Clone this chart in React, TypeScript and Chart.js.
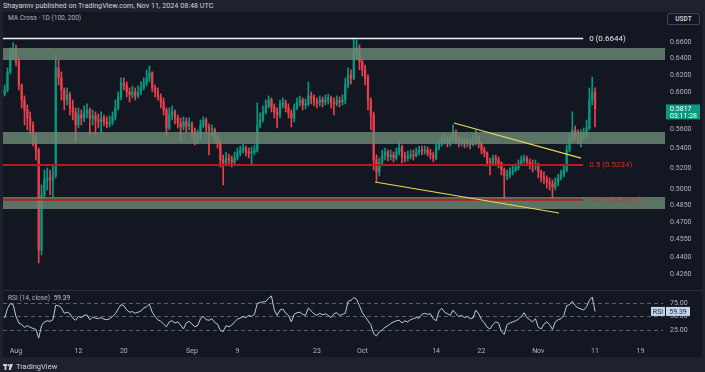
import React, { useEffect, useRef } from 'react';
import { Chart, registerables } from 'chart.js';

Chart.register(...registerables);

const FONT = 'Roboto, "Liberation Sans", Arial, sans-serif';

// Time axis: days since 2024-08-01 00:00 UTC, one 12h candle per step
const FIRST_DAY = -2;
const STEP_DAYS = 0.5;
const FIRST_OPEN = 0.5984;

const CLOSES = [
  0.6029, 0.6238, 0.6440, 0.6501, 0.6356, 0.6086, 0.5916, 0.5806, 0.5719, 0.5644,
  0.5507, 0.5383, 0.4458, 0.4945, 0.5087, 0.5107, 0.5087, 0.5136, 0.6285, 0.6167,
  0.6029, 0.5916, 0.5973, 0.5828, 0.5784, 0.5644, 0.5751, 0.5719, 0.5773, 0.5806,
  0.5719, 0.5740, 0.5697, 0.5676, 0.5719, 0.5676, 0.5655, 0.5676, 0.5730, 0.5828,
  0.5950, 0.6109, 0.6086, 0.6006, 0.5973, 0.6006, 0.5961, 0.6006, 0.6052, 0.6109,
  0.6167, 0.6226, 0.6052, 0.6006, 0.5950, 0.5894, 0.5806, 0.5612, 0.5751, 0.5784,
  0.5719, 0.5665, 0.5623, 0.5676, 0.5633, 0.5655, 0.5570, 0.5486, 0.5507, 0.5644,
  0.5697, 0.5623, 0.5591, 0.5591, 0.5507, 0.5455, 0.5283, 0.5253, 0.5303, 0.5283,
  0.5263, 0.5303, 0.5353, 0.5383, 0.5404, 0.5363, 0.5353, 0.5363, 0.5383, 0.5644,
  0.5697, 0.5784, 0.5850, 0.5916, 0.5839, 0.5784, 0.5751, 0.5872, 0.5883, 0.5828,
  0.5773, 0.5719, 0.5828, 0.5894, 0.5916, 0.5861, 0.5872, 0.5961, 0.5939, 0.5894,
  0.5883, 0.5916, 0.5894, 0.5916, 0.5939, 0.5883, 0.5872, 0.5905, 0.5894, 0.5916,
  0.6086, 0.6202, 0.6167, 0.6477, 0.6526, 0.6356, 0.6261, 0.6167, 0.5916, 0.5751,
  0.5283, 0.5165, 0.5263, 0.5323, 0.5363, 0.5313, 0.5333, 0.5303, 0.5363, 0.5414,
  0.5313, 0.5303, 0.5323, 0.5333, 0.5323, 0.5363, 0.5383, 0.5373, 0.5383, 0.5353,
  0.5333, 0.5303, 0.5404, 0.5445, 0.5486, 0.5507, 0.5455, 0.5486, 0.5570, 0.5486,
  0.5455, 0.5466, 0.5445, 0.5466, 0.5434, 0.5486, 0.5518, 0.5455, 0.5383, 0.5353,
  0.5263, 0.5253, 0.5303, 0.5283, 0.5253, 0.5184, 0.5126, 0.5136, 0.5165, 0.5184,
  0.5204, 0.5243, 0.5283, 0.5303, 0.5263, 0.5233, 0.5223, 0.5233, 0.5165, 0.5116,
  0.5097, 0.5068, 0.5049, 0.5021, 0.5068, 0.5107, 0.5145, 0.5184, 0.5383, 0.5486,
  0.5591, 0.5538, 0.5507, 0.5518, 0.5538, 0.5612, 0.5916, 0.6006, 0.5817,
];

const HIGHS = [
  0.6086, 0.6285, 0.6526, 0.6588, 0.6563, 0.6404, 0.6098, 0.5961, 0.5861, 0.5784,
  0.5676, 0.5538, 0.5404, 0.5040, 0.5184, 0.5204, 0.5184, 0.5233, 0.6440, 0.6380,
  0.6238, 0.6052, 0.6052, 0.6006, 0.5916, 0.5828, 0.5828, 0.5806, 0.5850, 0.5872,
  0.5828, 0.5806, 0.5784, 0.5762, 0.5784, 0.5751, 0.5730, 0.5740, 0.5784, 0.5916,
  0.6006, 0.6167, 0.6167, 0.6121, 0.6052, 0.6075, 0.6052, 0.6075, 0.6121, 0.6167,
  0.6261, 0.6308, 0.6238, 0.6086, 0.6052, 0.5984, 0.5939, 0.5828, 0.5828, 0.5850,
  0.5806, 0.5751, 0.5719, 0.5730, 0.5719, 0.5719, 0.5676, 0.5612, 0.5591, 0.5697,
  0.5730, 0.5719, 0.5655, 0.5644, 0.5612, 0.5538, 0.5486, 0.5333, 0.5363, 0.5343,
  0.5323, 0.5363, 0.5404, 0.5424, 0.5445, 0.5424, 0.5404, 0.5414, 0.5434, 0.5883,
  0.5773, 0.5850, 0.5916, 0.5961, 0.5939, 0.5872, 0.5828, 0.5916, 0.5939, 0.5916,
  0.5872, 0.5806, 0.5872, 0.5939, 0.5961, 0.5939, 0.5928, 0.6121, 0.6006, 0.5973,
  0.5939, 0.5961, 0.5950, 0.5973, 0.5984, 0.5961, 0.5939, 0.5961, 0.5950, 0.5973,
  0.6167, 0.6285, 0.6261, 0.6650, 0.6625, 0.6563, 0.6380, 0.6320, 0.6202, 0.5939,
  0.5784, 0.5333, 0.5303, 0.5383, 0.5404, 0.5383, 0.5383, 0.5363, 0.5404, 0.5455,
  0.5434, 0.5363, 0.5373, 0.5383, 0.5383, 0.5404, 0.5424, 0.5424, 0.5424, 0.5414,
  0.5393, 0.5363, 0.5455, 0.5486, 0.5528, 0.5549, 0.5528, 0.5538, 0.5644, 0.5591,
  0.5518, 0.5507, 0.5497, 0.5507, 0.5497, 0.5538, 0.5591, 0.5528, 0.5466, 0.5414,
  0.5363, 0.5303, 0.5333, 0.5333, 0.5313, 0.5263, 0.5204, 0.5184, 0.5204, 0.5223,
  0.5243, 0.5283, 0.5323, 0.5333, 0.5323, 0.5293, 0.5283, 0.5283, 0.5253, 0.5184,
  0.5165, 0.5126, 0.5107, 0.5087, 0.5107, 0.5145, 0.5184, 0.5233, 0.5434, 0.5538,
  0.5784, 0.5633, 0.5591, 0.5591, 0.5612, 0.5697, 0.6052, 0.6179, 0.6052,
];

const LOWS = [
  0.5961, 0.6006, 0.6214, 0.6380, 0.6308, 0.6029, 0.5828, 0.5644, 0.5591, 0.5549,
  0.5424, 0.5283, 0.4350, 0.4417, 0.4917, 0.4992, 0.4945, 0.4927, 0.5107, 0.6086,
  0.5916, 0.5806, 0.5861, 0.5751, 0.5697, 0.5466, 0.5612, 0.5644, 0.5676, 0.5719,
  0.5538, 0.5644, 0.5538, 0.5612, 0.5560, 0.5633, 0.5612, 0.5623, 0.5644, 0.5697,
  0.5806, 0.5916, 0.6029, 0.5950, 0.5894, 0.5939, 0.5916, 0.5939, 0.5973, 0.6029,
  0.6075, 0.6121, 0.6006, 0.5950, 0.5916, 0.5828, 0.5751, 0.5538, 0.5591, 0.5697,
  0.5655, 0.5612, 0.5466, 0.5591, 0.5570, 0.5591, 0.5507, 0.5434, 0.5445, 0.5486,
  0.5612, 0.5560, 0.5333, 0.5528, 0.5455, 0.5404, 0.5213, 0.5040, 0.5223, 0.5243,
  0.5213, 0.5243, 0.5283, 0.5323, 0.5353, 0.5323, 0.5303, 0.5233, 0.5333, 0.5363,
  0.5612, 0.5676, 0.5762, 0.5828, 0.5784, 0.5719, 0.5612, 0.5719, 0.5828, 0.5784,
  0.5719, 0.5623, 0.5676, 0.5806, 0.5850, 0.5806, 0.5817, 0.5850, 0.5872, 0.5850,
  0.5828, 0.5850, 0.5839, 0.5861, 0.5872, 0.5828, 0.5751, 0.5850, 0.5839, 0.5861,
  0.5872, 0.6052, 0.6098, 0.6144, 0.6380, 0.6261, 0.6191, 0.6086, 0.5806, 0.5591,
  0.5184, 0.5068, 0.5126, 0.5223, 0.5283, 0.5273, 0.5283, 0.5263, 0.5283, 0.5333,
  0.5253, 0.5263, 0.5273, 0.5293, 0.5283, 0.5313, 0.5333, 0.5333, 0.5343, 0.5323,
  0.5293, 0.5263, 0.5283, 0.5383, 0.5424, 0.5445, 0.5414, 0.5424, 0.5466, 0.5445,
  0.5414, 0.5424, 0.5404, 0.5414, 0.5393, 0.5424, 0.5434, 0.5404, 0.5343, 0.5313,
  0.5223, 0.5136, 0.5233, 0.5243, 0.5204, 0.5136, 0.4880, 0.5087, 0.5107, 0.5136,
  0.5165, 0.5184, 0.5233, 0.5253, 0.5223, 0.5194, 0.5165, 0.5184, 0.5107, 0.5068,
  0.5049, 0.5011, 0.4992, 0.4917, 0.4992, 0.5030, 0.5087, 0.5116, 0.5165, 0.5363,
  0.5466, 0.5486, 0.5445, 0.5414, 0.5486, 0.5507, 0.5591, 0.5861, 0.5623,
];

const RSI_VALUES = [
  47, 65, 74, 72, 50, 38, 35, 30, 33, 30,
  28, 26, 10, 33, 40, 42, 41, 44, 71, 70,
  66, 56, 58, 55, 47, 43, 50, 48, 52, 53,
  44, 49, 47, 46, 48, 45, 44, 46, 50, 55,
  64, 72, 70, 62, 58, 59, 56, 58, 60, 66,
  68, 73, 58, 50, 44, 41, 36, 31, 40, 42,
  38, 40, 34, 27, 38, 41, 36, 31, 33, 46,
  50, 44, 43, 46, 39, 36, 24, 22, 33, 31,
  34, 40, 45, 47, 50, 48, 52, 50, 54, 74,
  76, 77, 78, 84, 88, 62, 52, 62, 64, 56,
  52, 40, 54, 57, 58, 54, 52, 66, 60, 55,
  52, 56, 53, 55, 52, 48, 55, 57, 52, 54,
  56, 78, 80, 85, 82, 70, 57, 50, 42, 35,
  18, 14, 22, 25, 30, 33, 37, 40, 42, 43,
  38, 42, 40, 44, 46, 48, 47, 54, 56, 54,
  55, 46, 42, 60, 65, 58, 55, 52, 62, 55,
  50, 52, 48, 50, 46, 47, 62, 55, 44, 38,
  30, 27, 35, 40, 38, 22, 17, 35, 38, 40,
  42, 45, 50, 57, 48, 44, 40, 46, 30, 27,
  36, 40, 35, 26, 40, 44, 46, 52, 70, 72,
  78, 70, 66, 64, 62, 68, 80, 86, 59.39,
];
const RSI_LAST = 59.39;
const LAST_TIMER = '03:11:28';

const PRICE_MIN = 0.4126;
const PRICE_MAX = 0.6984;
const PRICE_TICKS = [0.66, 0.64, 0.62, 0.6, 0.58, 0.56, 0.54, 0.52, 0.5, 0.485, 0.47, 0.455, 0.44, 0.426];

const RSI_MIN = -2.78;
const RSI_MAX = 97.22;
const RSI_TICKS = [75, 50, 25];

const X_MIN = -2.29;
const X_MAX = 114.32;
const TIME_TICKS = [0, 11, 19, 31, 39, 53, 61, 74, 82, 92, 102, 110];
const TIME_LABELS = ['Aug', '12', '20', 'Sep', '9', '23', 'Oct', '14', '22', 'Nov', '11', '19'];

const ZONES = [
  [0.638, 0.6526],
  [0.5445, 0.557],
  [0.4817, 0.4926],
];
const LEVEL_VALUES = [0.6644, 0.5234, 0.4901];
const LEVEL_LABELS = ['0 (0.6644)', '0.5 (0.5234)', '0.618 (0.4901)'];
const LEVEL_END_DAY = 99.9;
const UPPER_TREND = [[77.15, 0.5665], [99.53, 0.5302]];
const LOWER_TREND = [[63.24, 0.5068], [95.65, 0.478]];

const UP = '#089981';
const DOWN = '#e8404d';
const ZONE_FILL = 'rgba(109,139,117,0.8)';
const LEVEL_LINE = ['#f2f2f2', '#b71c1c', '#b71c1c'];
const LEVEL_TEXT = ['#e6e6e6', '#d32f2f', '#d32f2f'];
const TREND = '#e4dc55';
const AXIS_TEXT = '#b2b5be';

const mainOverlay = {
  id: 'mainOverlay',
  afterDatasetsDraw(chart: any) {
    const { ctx, scales } = chart;
    const x = scales.x, y = scales.y;
    ctx.save();
    ctx.font = `8px ${FONT}`;
    ctx.textBaseline = 'middle';
    ctx.textAlign = 'left';
    LEVEL_VALUES.forEach((v, i) => {
      ctx.fillStyle = LEVEL_TEXT[i];
      ctx.fillText(LEVEL_LABELS[i], x.getPixelForValue(LEVEL_END_DAY) + 6, y.getPixelForValue(v) + 0.5);
    });
    ctx.restore();
  },
  afterDraw(chart: any) {
    const { ctx, chartArea, scales } = chart;
    const y = scales.y;
    const last = CLOSES[CLOSES.length - 1];
    const py = y.getPixelForValue(last);
    const left = chartArea.right + 1;
    ctx.save();
    ctx.fillStyle = UP;
    ctx.fillRect(left, py - 4.5, 34, 15);
    ctx.fillStyle = '#ffffff';
    ctx.font = `7px ${FONT}`;
    ctx.textBaseline = 'middle';
    ctx.textAlign = 'left';
    ctx.fillText(last.toFixed(4), left + 4, py);
    ctx.fillText(LAST_TIMER, left + 4, py + 7);
    ctx.restore();
  },
};

const rsiOverlay = {
  id: 'rsiOverlay',
  beforeDatasetsDraw(chart: any) {
    const { ctx, chartArea, scales } = chart;
    const y = scales.y;
    ctx.save();
    ctx.strokeStyle = '#5d606b';
    ctx.lineWidth = 1;
    ctx.setLineDash([4, 3]);
    RSI_TICKS.forEach((v) => {
      const py = Math.round(y.getPixelForValue(v)) + 0.5;
      ctx.beginPath();
      ctx.moveTo(chartArea.left, py);
      ctx.lineTo(chartArea.right - 2, py);
      ctx.stroke();
    });
    ctx.restore();
  },
  afterDraw(chart: any) {
    const { ctx, chartArea, scales } = chart;
    const py = scales.y.getPixelForValue(RSI_LAST);
    const r = chartArea.right;
    ctx.save();
    ctx.fillStyle = '#c5d5ee';
    ctx.fillRect(r - 14, py - 4.5, 14, 9);
    ctx.fillRect(r + 1, py - 4.5, 24, 9);
    ctx.fillStyle = '#1e222d';
    ctx.font = `7px ${FONT}`;
    ctx.textBaseline = 'middle';
    ctx.textAlign = 'center';
    ctx.fillText('RSI', r - 7, py + 0.5);
    ctx.fillText(RSI_LAST.toFixed(2), r + 13, py + 0.5);
    ctx.restore();
  },
};

export default function App() {
  const mainRef = useRef<HTMLCanvasElement>(null);
  const rsiRef = useRef<HTMLCanvasElement>(null);

  useEffect(() => {
    const days = CLOSES.map((_, i) => FIRST_DAY + i * STEP_DAYS);
    const opens = CLOSES.map((_, i) => (i === 0 ? FIRST_OPEN : CLOSES[i - 1]));
    const colors = CLOSES.map((c, i) => (c >= opens[i] ? UP : DOWN));

    const lineBase = { type: 'line', pointRadius: 0, tension: 0, fill: false };

    const main = new Chart(mainRef.current as HTMLCanvasElement, {
      type: 'bar',
      data: {
        datasets: [
          { ...lineBase, data: UPPER_TREND.map(([x, y]) => ({ x, y })), borderColor: TREND, borderWidth: 1.2, order: 0 },
          { ...lineBase, data: LOWER_TREND.map(([x, y]) => ({ x, y })), borderColor: TREND, borderWidth: 1.2, order: 0 },
          ...LEVEL_VALUES.map((v, i) => ({
            ...lineBase,
            data: [{ x: X_MIN, y: v }, { x: LEVEL_END_DAY, y: v }],
            borderColor: LEVEL_LINE[i],
            borderWidth: i === 0 ? 1.5 : 2,
            order: 1,
          })),
          ...ZONES.map(([lo, hi]) => ({
            ...lineBase,
            data: [{ x: X_MIN, y: hi }, { x: X_MAX, y: hi }],
            borderColor: 'rgba(0,0,0,0)',
            borderWidth: 1,
            backgroundColor: ZONE_FILL,
            fill: { value: lo },
            order: 2,
          })),
          {
            type: 'bar',
            data: days.map((d, i) => ({ x: d, y: [opens[i], CLOSES[i]] })),
            backgroundColor: colors,
            borderWidth: 0,
            grouped: false,
            barPercentage: 1,
            categoryPercentage: 1,
            maxBarThickness: 1.6,
            minBarLength: 1,
            order: 3,
          },
          {
            type: 'bar',
            data: days.map((d, i) => ({ x: d, y: [LOWS[i], HIGHS[i]] })),
            backgroundColor: colors,
            borderWidth: 0,
            grouped: false,
            barPercentage: 1,
            categoryPercentage: 1,
            maxBarThickness: 1,
            order: 4,
          },
        ] as any,
      },
      options: {
        responsive: false,
        animation: false,
        devicePixelRatio: 1,
        events: [],
        layout: { padding: { left: 3, right: 0, top: 0, bottom: 0 } },
        plugins: { legend: { display: false }, tooltip: { enabled: false } },
        scales: {
          x: { type: 'linear', min: X_MIN, max: X_MAX, display: false, offset: false },
          y: {
            type: 'logarithmic',
            position: 'right',
            min: PRICE_MIN,
            max: PRICE_MAX,
            grid: { display: false, drawTicks: false },
            border: { display: false },
            afterBuildTicks: (s: any) => { s.ticks = PRICE_TICKS.map((v) => ({ value: v })); },
            afterFit: (s: any) => { s.width = 40; s.paddingTop = 0; s.paddingBottom = 0; },
            ticks: {
              autoSkip: false,
              padding: 5,
              color: AXIS_TEXT,
              font: { size: 7, family: FONT },
              callback: (v: any) => Number(v).toFixed(4),
            },
          },
        },
      } as any,
      plugins: [mainOverlay],
    });

    const rsi = new Chart(rsiRef.current as HTMLCanvasElement, {
      type: 'line',
      data: {
        datasets: [
          {
            data: days.map((d, i) => ({ x: d, y: RSI_VALUES[i] })),
            borderColor: '#b9cbe6',
            borderWidth: 1,
            pointRadius: 0,
            tension: 0,
          },
        ],
      },
      options: {
        responsive: false,
        animation: false,
        devicePixelRatio: 1,
        events: [],
        layout: { padding: { left: 3, right: 0, top: 0, bottom: 0 } },
        plugins: { legend: { display: false }, tooltip: { enabled: false } },
        scales: {
          x: {
            type: 'linear',
            min: X_MIN,
            max: X_MAX,
            position: 'bottom',
            offset: false,
            grid: { display: false, drawTicks: false },
            border: { display: false },
            afterBuildTicks: (s: any) => { s.ticks = TIME_TICKS.map((v) => ({ value: v })); },
            afterFit: (s: any) => { s.height = 12; s.paddingLeft = 0; s.paddingRight = 0; },
            ticks: {
              autoSkip: false,
              maxRotation: 0,
              minRotation: 0,
              padding: 2,
              color: AXIS_TEXT,
              font: { size: 7, family: FONT },
              callback: (_v: any, i: number) => TIME_LABELS[i],
            },
          },
          y: {
            type: 'linear',
            position: 'right',
            min: RSI_MIN,
            max: RSI_MAX,
            grid: { display: false, drawTicks: false },
            border: { display: false },
            afterBuildTicks: (s: any) => { s.ticks = RSI_TICKS.map((v) => ({ value: v })); },
            afterFit: (s: any) => { s.width = 40; s.paddingTop = 0; s.paddingBottom = 0; },
            ticks: {
              autoSkip: false,
              padding: 5,
              color: AXIS_TEXT,
              font: { size: 7, family: FONT },
              callback: (v: any) => Number(v).toFixed(2),
            },
          },
        },
      } as any,
      plugins: [rsiOverlay],
    });

    return () => {
      main.destroy();
      rsi.destroy();
    };
  }, []);

  const abs: React.CSSProperties = { position: 'absolute', whiteSpace: 'nowrap' };

  return (
    <div
      style={{
        position: 'fixed', left: 0, top: 0, width: 705, height: 372,
        background: '#1f222d', overflow: 'hidden', fontFamily: FONT,
      }}
    >
      <div style={{ ...abs, left: 3, top: 0, height: 11, lineHeight: '11px', fontSize: 7.2, color: '#d1d4dc' }}>
        Shayannv published on TradingView.com, Nov 11, 2024 08:48 UTC
      </div>
      <div style={{ ...abs, left: 3, top: 12, width: 699, height: 345, background: '#131722', borderRadius: 3 }} />
      <div style={{ ...abs, left: 8, top: 14, lineHeight: '9px', fontSize: 6.6, color: AXIS_TEXT }}>
        MA Cross · 1D (100, 200)
      </div>
      <div
        style={{
          ...abs, left: 667, top: 13, width: 31, height: 10, border: '1px solid #434651', borderRadius: 2,
          fontSize: 6.5, lineHeight: '10px', textAlign: 'center', color: '#d1d4dc', fontWeight: 600,
        }}
      >
        USDT
      </div>
      <canvas ref={mainRef} width={705} height={279} style={{ position: 'absolute', left: 0, top: 12 }} />
      <div style={{ ...abs, left: 3, top: 290, width: 699, height: 1, background: '#2a2e39' }} />
      <canvas ref={rsiRef} width={705} height={66} style={{ position: 'absolute', left: 0, top: 291 }} />
      <div style={{ ...abs, left: 8, top: 294, lineHeight: '9px', fontSize: 6.6, color: AXIS_TEXT }}>
        RSI (14, close) <span style={{ color: '#b9cbe6', marginLeft: 2 }}>{RSI_LAST.toFixed(2)}</span>
      </div>
      <div style={{ ...abs, left: 3, top: 362, height: 10, display: 'flex', alignItems: 'center', gap: 3 }}>
        <svg width="10" height="6" viewBox="0 0 10 6">
          <rect x="0" y="0" width="4" height="1.8" fill="#d1d4dc" />
          <rect x="1.6" y="0" width="1.8" height="6" fill="#d1d4dc" />
          <circle cx="5.3" cy="1.2" r="1" fill="#d1d4dc" />
          <polygon points="6.6,0 10,0 7.6,6 5.8,6" fill="#d1d4dc" />
        </svg>
        <span style={{ fontSize: 7.5, color: '#d1d4dc', lineHeight: '10px' }}>TradingView</span>
      </div>
    </div>
  );
}
